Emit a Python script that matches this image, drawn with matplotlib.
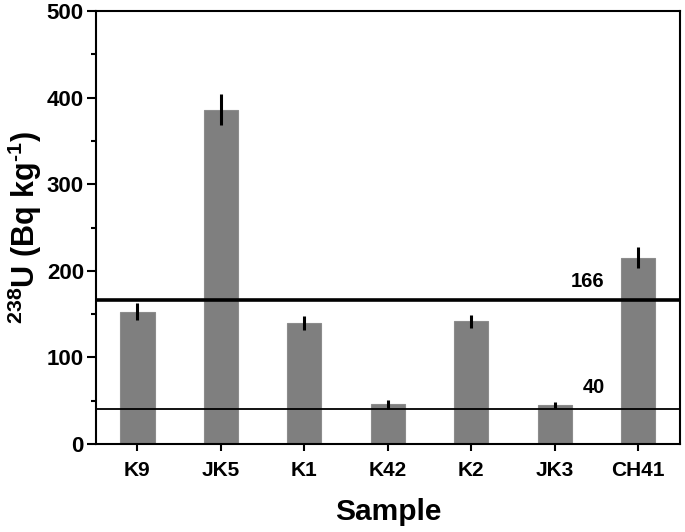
import matplotlib
matplotlib.use("Agg")
import matplotlib.pyplot as plt
from matplotlib.ticker import MultipleLocator

samples = ["K9", "JK5", "K1", "K42", "K2", "JK3", "CH41"]
u238 = [153, 386, 140, 46, 142, 45.5, 215]
u238_err = [10, 18, 8, 5, 7.5, 3.5, 12]
ref_high = 166
ref_low = 40
ref_labels = ["166", "40"]
y_ticks = [0, 100, 200, 300, 400, 500]

plt.rcParams['font.family'] = ['Liberation Sans', 'DejaVu Sans']
plt.rcParams['mathtext.fontset'] = 'custom'
plt.rcParams['mathtext.rm'] = 'Liberation Sans:bold'
plt.rcParams['mathtext.bf'] = 'Liberation Sans:bold'
plt.rcParams['mathtext.it'] = 'Liberation Sans:bold'

fig = plt.figure(figsize=(6.85, 5.32), dpi=100)
ax = fig.add_axes([0.1397, 0.1654, 0.8530, 0.8139])

x = list(range(len(samples)))
ax.bar(x, u238, width=0.41, color='#7f7f7f', edgecolor='#8c8c8c', linewidth=0.8, zorder=2)
ax.errorbar(x, u238, yerr=u238_err, fmt='none', ecolor='black', elinewidth=2.2, capsize=0, zorder=3)

ax.axhline(ref_high, color='black', linewidth=2.6, zorder=4)
ax.axhline(ref_low, color='black', linewidth=1.3, zorder=4)
ax.text(5.6, 188, ref_labels[0], ha='right', va='center', fontsize=14.5, fontweight='bold')
ax.text(5.6, 65, ref_labels[1], ha='right', va='center', fontsize=14.5, fontweight='bold')

ax.set_xlim(-0.5, 6.5)
ax.set_ylim(0, 500)
ax.set_xticks(x)
ax.set_xticklabels(samples, fontsize=15, fontweight='bold')
ax.set_yticks(y_ticks)
ax.set_yticklabels([str(t) for t in y_ticks], fontsize=16, fontweight='bold')
ax.yaxis.set_minor_locator(MultipleLocator(50))

for s in ax.spines.values():
    s.set_linewidth(1.5)
ax.tick_params(axis='y', which='major', direction='out', length=6.5, width=1.5, pad=2)
ax.tick_params(axis='y', which='minor', direction='out', length=3.5, width=1.5)
ax.tick_params(axis='x', which='major', direction='out', length=5, width=1.5, pad=7)
ax.tick_params(top=False, right=False)

ax.set_xlabel('Sample', fontsize=21.5, fontweight='bold', labelpad=13)
ax.set_ylabel(r'$^{238}$U (Bq kg$^{\text{-}1}$)', fontsize=22, fontweight='bold')
ax.yaxis.set_label_coords(-0.088, 0.50)

fig.savefig('out.png', dpi=100)
